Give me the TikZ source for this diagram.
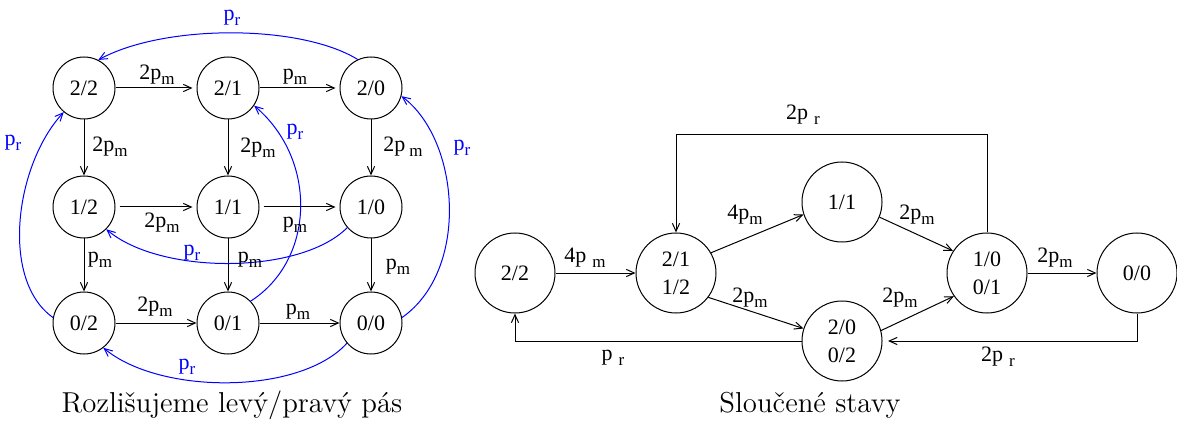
\documentclass[tikz,border=0pt]{standalone}
\usepackage{fontspec}
\newfontfamily\tms{Liberation Serif}
\usetikzlibrary{arrows.meta}
\newcommand\sbx[1]{\raisebox{-2.5pt}{\fontsize{8.5}{9}\selectfont #1}}
\begin{document}
\begin{tikzpicture}[x=0.5pt,y=-0.5pt, line width=0.5pt,
  >={Straight Barb[length=4pt,width=3.6pt]},
  st/.style={circle,draw,minimum size=31pt,inner sep=0pt,font=\tms\fontsize{11}{13}\selectfont},
  bst/.style={circle,draw,minimum size=40pt,inner sep=0pt,align=center,font=\tms\fontsize{11}{14}\selectfont},
  lb/.style={font=\tms\fontsize{11}{13}\selectfont,inner sep=0pt},
  bl/.style={blue,->},
  bll/.style={lb,text=blue}]
\useasboundingbox (0,0) rectangle (1177,427);
% left grid
\node[st] (a22) at (84,88) {2/2};
\node[st] (a21) at (228,88) {2/1};
\node[st] (a20) at (371,88) {2/0};
\node[st] (a12) at (84,207) {1/2};
\node[st] (a11) at (228,207) {1/1};
\node[st] (a10) at (371,207) {1/0};
\node[st] (a02) at (84,323) {0/2};
\node[st] (a01) at (228,323) {0/1};
\node[st] (a00) at (371,323) {0/0};
\draw[->,shorten >=2pt] (a22) -- (a21);
\draw[->,shorten >=2pt] (a21) -- (a20);
\draw[->,shorten <=2pt,shorten >=2pt] (a12) -- (a11);
\draw[->,shorten <=2pt,shorten >=2pt] (a11) -- (a10);
\draw[->] (a02) -- (a01);
\draw[->] (a01) -- (a00);
\draw[->] (a22) -- (a12);
\draw[->] (a21) -- (a11);
\draw[->] (a20) -- (a10);
\draw[->] (a12) -- (a02);
\draw[->] (a11) -- (a01);
\draw[->] (a10) -- (a00);
\draw[bl] (a20.115) .. controls (300,24) and (164,24) .. (a22.63);
\draw[bl] (a02.170) .. controls (0,280) and (15,165) .. (a22.230);
\draw[bl] (a00.10) .. controls (470,270) and (460,140) .. (a20.-15);
\draw[bl] (a01.44) .. controls (315,260) and (318,160) .. (a21.-34);
\draw[bl] (a10.221) .. controls (300,275) and (160,275) .. (a12.-45);
\draw[bl] (a00.220) .. controls (300,395) and (160,395) .. (a02.-52);
\node[lb] (l1) at (157,75) {2p\sbx{m}};
\node[lb] (l2) at (295,77) {p\sbx{m}};
\node[lb] (l3) at (110,147) {2p\sbx{m}};
\node[lb] (l4) at (258,148) {2p\sbx{m}};
\node[lb] (l5) at (403,147) {2p\hspace{2pt}\sbx{m}};
\node[lb] (l6) at (162,223) {2p\sbx{m}};
\node[lb] (l7) at (295,225) {p\sbx{m}};
\node[lb] (l8) at (100,260) {p\sbx{m}};
\node[lb] (l9) at (250,260) {p\sbx{m}};
\node[lb] (l10) at (398,267) {p\sbx{m}};
\node[lb] (l11) at (155,307) {2p\sbx{m}};
\node[lb] (l12) at (298,312) {p\sbx{m}};
\node[bll] (r1) at (232,18) {p\sbx{r}};
\node[bll] (r2) at (13,143) {p\sbx{r}};
\node[bll] (r3) at (295,132) {p\sbx{r}};
\node[bll] (r4) at (462,148) {p\sbx{r}};
\node[bll] (r5) at (192,253) {p\sbx{r}};
\node[bll] (r6) at (187,367) {p\sbx{r}};
\node[font=\fontsize{14.4}{17}\selectfont] (cap1) at (232,405) {Rozlišujeme levý/pravý pás};
% right diagram
\node[bst] (b22) at (515,273) {2/2};
\node[bst] (b21) at (676,273) {2/1\\1/2};
\node[bst] (b11) at (842,202) {1/1};
\node[bst] (b20) at (842,341) {2/0\\0/2};
\node[bst] (b10) at (987,273) {1/0\\0/1};
\node[bst] (b00) at (1137,273) {0/0};
\coordinate (c1) at (888,341);
\draw[->] (b22) -- (b21);
\draw[->] (b21.30) -- (b11.198);
\draw[->] (b21.-37) -- (b20.162);
\draw[->] (b11.-22) -- (b10.147);
\draw[->] (b20.15) -- (b10.215);
\draw[->] (b10) -- (b00);
\draw[->] (b10.north) -- ++(0,-98) -| (b21.north);
\draw[->] (b00.south) |- (c1);
\draw[->] (b20.west) -| (b22.south);
\node[lb] (m1) at (585,258) {4p\hspace{3pt}\sbx{m}};
\node[lb] (m2) at (803,115) {2p\hspace{3pt}\sbx{r}};
\node[lb] (m3) at (745,215) {4p\sbx{m}};
\node[lb] (m4) at (750,298) {2p\sbx{m}};
\node[lb] (m5) at (917,215) {2p\sbx{m}};
\node[lb] (m6) at (900,298) {2p\sbx{m}};
\node[lb] (m7) at (1055,258) {2p\sbx{m}};
\node[lb] (m8) at (998,357) {2p\hspace{3pt}\sbx{r}};
\node[lb] (m9) at (613,358) {p\hspace{3pt}\sbx{r}};
\node[font=\fontsize{14.4}{17}\selectfont] (cap2) at (810,405) {Sloučené stavy};
\end{tikzpicture}
\end{document}
